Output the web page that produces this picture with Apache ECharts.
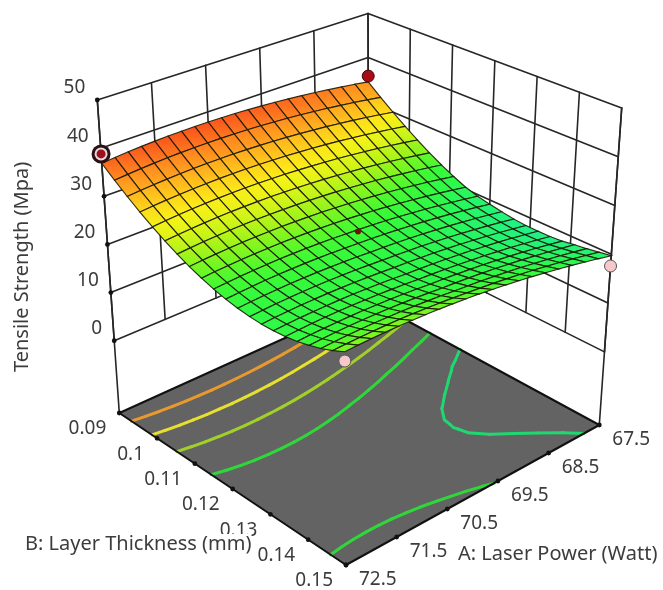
<!DOCTYPE html>
<html>
<head>
<meta charset="utf-8">
<title>Tensile Strength surface</title>
<script src="https://cdn.jsdelivr.net/npm/echarts@6/dist/echarts.min.js"></script>
<style>
  html, body { margin: 0; padding: 0; background: #fff; }
  #main { width: 663px; height: 590px; }
</style>
</head>
<body>
<div id="main"></div>
<script>
// axis ticks
var laserTicks = [67.5, 68.5, 69.5, 70.5, 71.5, 72.5];
var thicknessTicks = [0.09, 0.1, 0.11, 0.12, 0.13, 0.14, 0.15];
var strengthTicks = [0, 10, 20, 30, 40, 50];
var floorLevel = -15;

// surface mesh positions
var gridLaser = [67.5, 67.75, 68, 68.25, 68.5, 68.75, 69, 69.25, 69.5, 69.75, 70,
  70.25, 70.5, 70.75, 71, 71.25, 71.5, 71.75, 72, 72.25, 72.5];
var gridThickness = [0.09, 0.093, 0.096, 0.099, 0.102, 0.105, 0.108, 0.111, 0.114, 0.117, 0.12,
  0.123, 0.126, 0.129, 0.132, 0.135, 0.138, 0.141, 0.144, 0.147, 0.15];

// Tensile strength, one row per gridThickness, one column per gridLaser.
// Estimated: corners, edge heights and contour crossings, cells
// between them worked out beforehand with a hand fitted curve, then typed in.
var strength = [
  [34.50, 35.00, 35.46, 35.87, 36.25, 36.59, 36.89, 37.14, 37.36, 37.54, 37.68, 37.77, 37.83, 37.85, 37.83, 37.76, 37.66, 37.52, 37.34, 37.11, 36.85],
  [32.15, 32.65, 33.12, 33.54, 33.93, 34.27, 34.58, 34.85, 35.07, 35.26, 35.40, 35.51, 35.57, 35.60, 35.59, 35.53, 35.44, 35.30, 35.13, 34.91, 34.66],
  [29.96, 30.47, 30.95, 31.38, 31.78, 32.13, 32.44, 32.72, 32.95, 33.15, 33.30, 33.41, 33.49, 33.52, 33.52, 33.47, 33.38, 33.26, 33.09, 32.89, 32.64],
  [27.95, 28.47, 28.95, 29.39, 29.79, 30.16, 30.48, 30.76, 31.00, 31.21, 31.37, 31.49, 31.57, 31.61, 31.62, 31.58, 31.50, 31.38, 31.23, 31.03, 30.79],
  [26.10, 26.63, 27.12, 27.57, 27.98, 28.35, 28.68, 28.97, 29.22, 29.43, 29.61, 29.74, 29.83, 29.88, 29.89, 29.86, 29.79, 29.68, 29.53, 29.34, 29.11],
  [24.43, 24.96, 25.46, 25.92, 26.34, 26.72, 27.06, 27.36, 27.62, 27.83, 28.01, 28.15, 28.25, 28.31, 28.33, 28.31, 28.25, 28.14, 28.00, 27.82, 27.60],
  [22.92, 23.47, 23.97, 24.44, 24.87, 25.26, 25.60, 25.91, 26.18, 26.40, 26.59, 26.74, 26.84, 26.91, 26.94, 26.93, 26.87, 26.78, 26.65, 26.47, 26.26],
  [21.59, 22.14, 22.66, 23.13, 23.57, 23.96, 24.32, 24.63, 24.91, 25.14, 25.34, 25.49, 25.61, 25.68, 25.72, 25.71, 25.67, 25.58, 25.46, 25.29, 25.09],
  [20.42, 20.98, 21.51, 21.99, 22.43, 22.84, 23.20, 23.52, 23.81, 24.05, 24.26, 24.42, 24.54, 24.63, 24.67, 24.67, 24.64, 24.56, 24.44, 24.29, 24.09],
  [19.63, 20.18, 20.69, 21.16, 21.59, 21.98, 22.34, 22.65, 22.92, 23.15, 23.34, 23.51, 23.65, 23.74, 23.79, 23.80, 23.77, 23.70, 23.60, 23.45, 23.26],
  [19.10, 19.63, 20.12, 20.57, 20.98, 21.35, 21.68, 21.97, 22.22, 22.43, 22.60, 22.78, 22.92, 23.02, 23.08, 23.10, 23.08, 23.02, 22.92, 22.78, 22.60],
  [18.65, 19.16, 19.64, 20.08, 20.48, 20.84, 21.15, 21.43, 21.67, 21.87, 22.03, 22.22, 22.36, 22.47, 22.54, 22.57, 22.56, 22.51, 22.41, 22.28, 22.11],
  [18.26, 18.78, 19.25, 19.69, 20.09, 20.44, 20.76, 21.04, 21.27, 21.47, 21.63, 21.82, 21.98, 22.09, 22.17, 22.21, 22.20, 22.16, 22.08, 21.95, 21.79],
  [18.05, 18.56, 19.03, 19.47, 19.86, 20.22, 20.53, 20.81, 21.04, 21.24, 21.39, 21.60, 21.76, 21.89, 21.97, 22.02, 22.02, 21.99, 21.91, 21.80, 21.64],
  [18.00, 18.51, 18.99, 19.42, 19.81, 20.17, 20.48, 20.75, 20.98, 21.18, 21.33, 21.54, 21.72, 21.85, 21.94, 22.00, 22.01, 21.98, 21.91, 21.81, 21.66],
  [18.03, 18.55, 19.03, 19.47, 19.87, 20.23, 20.55, 20.83, 21.08, 21.28, 21.44, 21.66, 21.84, 21.98, 22.08, 22.14, 22.17, 22.15, 22.09, 21.99, 21.85],
  [18.22, 18.75, 19.24, 19.69, 20.10, 20.47, 20.80, 21.09, 21.34, 21.55, 21.72, 21.94, 22.13, 22.28, 22.39, 22.46, 22.49, 22.48, 22.43, 22.34, 22.21],
  [18.59, 19.12, 19.62, 20.08, 20.50, 20.87, 21.21, 21.51, 21.77, 21.98, 22.16, 22.40, 22.60, 22.76, 22.87, 22.95, 22.99, 22.99, 22.94, 22.86, 22.74],
  [18.92, 19.49, 20.01, 20.50, 20.94, 21.35, 21.72, 22.04, 22.33, 22.57, 22.78, 23.03, 23.23, 23.40, 23.52, 23.61, 23.66, 23.66, 23.63, 23.55, 23.44],
  [19.33, 19.93, 20.49, 21.02, 21.50, 21.95, 22.35, 22.71, 23.04, 23.32, 23.57, 23.82, 24.04, 24.21, 24.34, 24.44, 24.49, 24.51, 24.48, 24.42, 24.31],
  [19.70, 20.36, 20.99, 21.57, 22.11, 22.61, 23.08, 23.50, 23.88, 24.22, 24.53, 24.79, 25.01, 25.19, 25.34, 25.44, 25.50, 25.52, 25.51, 25.45, 25.35]
];

// contour levels on the floor and their colours
var contourLevels = [20.5, 24, 27.5, 31, 34.5];
var contourColors = ['#1fd870', '#2fd83a', '#a2d02a', '#e6e02e', '#e89a2c'];

// design points: laser, thickness, strength
var designPoints = [
  { at: [72.5, 0.09, 38.8], kind: 'big' },
  { at: [67.5, 0.09, 35.8], kind: 'high' },
  { at: [67.5, 0.15, 17.6], kind: 'low' },
  { at: [72.5, 0.15, 23.6], kind: 'low' },
  { at: [70, 0.12, 25.1], kind: 'center' }
];

// colour ramp from strengthMin to strengthMax
var strengthMin = 17;
var strengthMax = 38;
var ramp = ['#20eaa0', '#24f474', '#2cf84c', '#3cfa34', '#8cf41c', '#d4f418', '#fdf218', '#ffca1c', '#ff9e20', '#ff7620', '#f84c1c'];

// where the box corners sit in the picture, [px, py], floor then top of the box
var cornerBackFloor = [369, 300], cornerLeftFloor = [119.3, 413];
var cornerRightFloor = [599.3, 425], cornerNearFloor = [346, 565];
var cornerBackTop = [368, 13.5], cornerLeftTop = [97.3, 100];
var cornerRightTop = [621.7, 108], cornerNearTop = [344, 221.5];

var fontName = '"Noto Sans", "Open Sans", sans-serif';
var textColor = '#3c3c3c';
var lineColor = '#262626';

var A0 = laserTicks[0], A1 = laserTicks[laserTicks.length - 1];
var B0 = thicknessTicks[0], B1 = thicknessTicks[thicknessTicks.length - 1];
var Zt = strengthTicks[strengthTicks.length - 1];

// the box edges are evenly ticked in the picture, so blend between its corners
function project(A, B, Z) {
  var u = (A - A0) / (A1 - A0), v = (B - B0) / (B1 - B0), w = (Z - floorLevel) / (Zt - floorLevel);
  function mix(k) {
    var floor = (1 - u) * (1 - v) * cornerBackFloor[k] + u * (1 - v) * cornerLeftFloor[k] +
      (1 - u) * v * cornerRightFloor[k] + u * v * cornerNearFloor[k];
    var top = (1 - u) * (1 - v) * cornerBackTop[k] + u * (1 - v) * cornerLeftTop[k] +
      (1 - u) * v * cornerRightTop[k] + u * v * cornerNearTop[k];
    return floor + (top - floor) * w;
  }
  return [mix(0), mix(1)];
}

function strengthColor(z) {
  return echarts.color.lerp(Math.max(0, Math.min(1, (z - strengthMin) / (strengthMax - strengthMin))), ramp);
}

// wall lines
var wallLines = [];
strengthTicks.forEach(function (z) {
  wallLines.push([[A1, B0, z], [A0, B0, z]]);
  wallLines.push([[A0, B0, z], [A0, B1, z]]);
});
laserTicks.forEach(function (a) { wallLines.push([[a, B0, 0], [a, B0, Zt]]); });
thicknessTicks.forEach(function (b) { wallLines.push([[A0, b, 0], [A0, b, Zt]]); });
wallLines.push([[A1, B0, floorLevel], [A1, B0, Zt]]);
wallLines.push([[A0, B1, floorLevel], [A0, B1, Zt]]);

var floorEdges = [
  [[A1, B0, floorLevel], [A1, B1, floorLevel]],
  [[A1, B1, floorLevel], [A0, B1, floorLevel]],
  [[A1, B0, floorLevel], [A0, B0, floorLevel]],
  [[A0, B1, floorLevel], [A0, B0, floorLevel]]
];

// tick dots
var tickDots = [];
strengthTicks.forEach(function (z) { tickDots.push([A1, B0, z]); });
laserTicks.forEach(function (a) { tickDots.push([a, B1, floorLevel]); });
thicknessTicks.forEach(function (b) { tickDots.push([A1, b, floorLevel]); });

// contour segments from the strength table
var contourSegments = [];
function cross(p, q, level) {
  var t = (level - p[2]) / (q[2] - p[2]);
  return [p[0] + t * (q[0] - p[0]), p[1] + t * (q[1] - p[1])];
}
contourLevels.forEach(function (level, n) {
  for (var j = 0; j < gridThickness.length - 1; j++) {
    for (var i = 0; i < gridLaser.length - 1; i++) {
      var c = [
        [gridLaser[i], gridThickness[j], strength[j][i]],
        [gridLaser[i + 1], gridThickness[j], strength[j][i + 1]],
        [gridLaser[i + 1], gridThickness[j + 1], strength[j + 1][i + 1]],
        [gridLaser[i], gridThickness[j + 1], strength[j + 1][i]]
      ];
      var hits = [];
      for (var e = 0; e < 4; e++) {
        var p = c[e], q = c[(e + 1) % 4];
        if ((p[2] < level) !== (q[2] < level)) { hits.push(cross(p, q, level)); }
      }
      if (hits.length === 2) { contourSegments.push({ from: hits[0], to: hits[1], color: contourColors[n] }); }
    }
  }
});

// surface cells, back corner first
var cells = [];
for (var j = 0; j < gridThickness.length - 1; j++) {
  for (var i = 0; i < gridLaser.length - 1; i++) {
    cells.push({ i: i, j: j });
  }
}
cells.sort(function (p, q) {
  return (p.i + p.j) - (q.i + q.j) || p.i - q.i;
});

// tick and axis texts
var tickTexts = [];
strengthTicks.forEach(function (z) {
  tickTexts.push({ at: [A1, B0, z], text: String(z), dx: -12, dy: -12, align: 'right' });
});
thicknessTicks.forEach(function (b) {
  tickTexts.push({ at: [A1, b, floorLevel], text: String(b), dx: -13, dy: 16, align: 'right' });
});
laserTicks.forEach(function (a) {
  tickTexts.push({ at: [a, B1, floorLevel], text: String(a), dx: 13, dy: 15, align: 'left' });
});

var axisTitles = [
  { text: 'B: Layer Thickness (mm)', x: 25, y: 544, rotation: 0, background: '#fff' },
  { text: 'A: Laser Power (Watt)', x: 458, y: 554, rotation: 0 },
  { text: 'Tensile Strength (Mpa)', x: 22, y: 372, rotation: Math.PI / 2 }
];

function pt(api, A, B, Z) {
  return api.coord(project(A, B, Z));
}

function lineShape(api, seg, width, color) {
  var p = pt(api, seg[0][0], seg[0][1], seg[0][2]);
  var q = pt(api, seg[1][0], seg[1][1], seg[1][2]);
  return {
    type: 'line',
    shape: { x1: p[0], y1: p[1], x2: q[0], y2: q[1] },
    style: { stroke: color, lineWidth: width, lineCap: 'round' }
  };
}

function layer(items, order, draw) {
  return {
    type: 'custom',
    coordinateSystem: 'cartesian2d',
    silent: true,
    clip: false,
    animation: false,
    progressive: 0,
    z: order,
    encode: { x: 0, y: 1 },
    data: items.map(function (it, k) { return [k, 0]; }),
    renderItem: function (params, api) {
      return draw(items[params.dataIndex], api);
    }
  };
}

var myChart = echarts.init(document.getElementById('main'));

var option = {
  backgroundColor: '#fff',
  animation: false,
  tooltip: { show: false },
  grid: { left: 0, right: 0, top: 0, bottom: 0 },
  xAxis: { type: 'value', min: 0, max: 663, show: false },
  yAxis: { type: 'value', min: 0, max: 590, inverse: true, show: false },
  series: [
    // walls
    layer(wallLines, 1, function (seg, api) {
      return lineShape(api, seg, 1.6, lineColor);
    }),
    // floor
    layer([[[A1, B0], [A1, B1], [A0, B1], [A0, B0]]], 2, function (corners, api) {
      return {
        type: 'polygon',
        shape: { points: corners.map(function (c) { return pt(api, c[0], c[1], floorLevel); }) },
        style: { fill: '#636363' }
      };
    }),
    layer(contourSegments, 3, function (s, api) {
      return lineShape(api, [[s.from[0], s.from[1], floorLevel], [s.to[0], s.to[1], floorLevel]], 3, s.color);
    }),
    layer(floorEdges, 4, function (seg, api) {
      return lineShape(api, seg, 2, '#111');
    }),
    layer(tickDots, 5, function (d, api) {
      var p = pt(api, d[0], d[1], d[2]);
      return { type: 'circle', shape: { cx: p[0], cy: p[1], r: 2.4 }, style: { fill: '#111' } };
    }),
    // surface
    layer(cells, 6, function (c, api) {
      var i = c.i, j = c.j;
      var a = gridLaser[i], a2 = gridLaser[i + 1], b = gridThickness[j], b2 = gridThickness[j + 1];
      return {
        type: 'polygon',
        shape: {
          points: [
            pt(api, a, b, strength[j][i]),
            pt(api, a2, b, strength[j][i + 1]),
            pt(api, a2, b2, strength[j + 1][i + 1]),
            pt(api, a, b2, strength[j + 1][i])
          ]
        },
        style: {
          fill: {
            type: 'linear', x: 0, y: 0, x2: 0, y2: 1,
            colorStops: [
              { offset: 0, color: strengthColor(strength[j][i]) },
              { offset: 1, color: strengthColor(strength[j + 1][i + 1]) }
            ]
          },
          stroke: 'rgba(25,25,5,0.9)',
          lineWidth: 1.15
        }
      };
    }),
    // design points
    layer(designPoints, 7, function (d, api) {
      var p = pt(api, d.at[0], d.at[1], d.at[2]);
      if (d.kind === 'big') {
        return {
          type: 'group',
          children: [
            { type: 'circle', shape: { cx: p[0], cy: p[1], r: 9.5 }, style: { fill: '#2a1015' } },
            { type: 'circle', shape: { cx: p[0], cy: p[1], r: 6.5 }, style: { fill: '#e8d8d8' } },
            { type: 'circle', shape: { cx: p[0], cy: p[1], r: 4.5 }, style: { fill: '#9c0f1c' } }
          ]
        };
      }
      if (d.kind === 'high') {
        return { type: 'circle', shape: { cx: p[0], cy: p[1], r: 6 }, style: { fill: '#a80c14', stroke: '#3a0a0a', lineWidth: 1 } };
      }
      if (d.kind === 'low') {
        return { type: 'circle', shape: { cx: p[0], cy: p[1], r: 6 }, style: { fill: '#f6c8cc', stroke: '#555', lineWidth: 1 } };
      }
      return { type: 'circle', shape: { cx: p[0], cy: p[1], r: 3 }, style: { fill: '#6e1010' } };
    }),
    // texts
    layer(tickTexts, 8, function (t, api) {
      var p = pt(api, t.at[0], t.at[1], t.at[2]);
      return {
        type: 'text',
        style: {
          text: t.text, x: p[0] + t.dx, y: p[1] + t.dy, fill: textColor,
          font: '19px ' + fontName, align: t.align, verticalAlign: 'middle'
        }
      };
    }),
    layer(axisTitles, 9, function (t, api) {
      var p = api.coord([t.x, t.y]);
      return {
        type: 'text',
        x: p[0],
        y: p[1],
        rotation: t.rotation,
        style: {
          text: t.text, x: 0, y: 0, fill: textColor,
          font: '20px ' + fontName, align: 'left', verticalAlign: 'middle',
          backgroundColor: t.background
        }
      };
    })
  ]
};

myChart.setOption(option);
</script>
</body>
</html>
